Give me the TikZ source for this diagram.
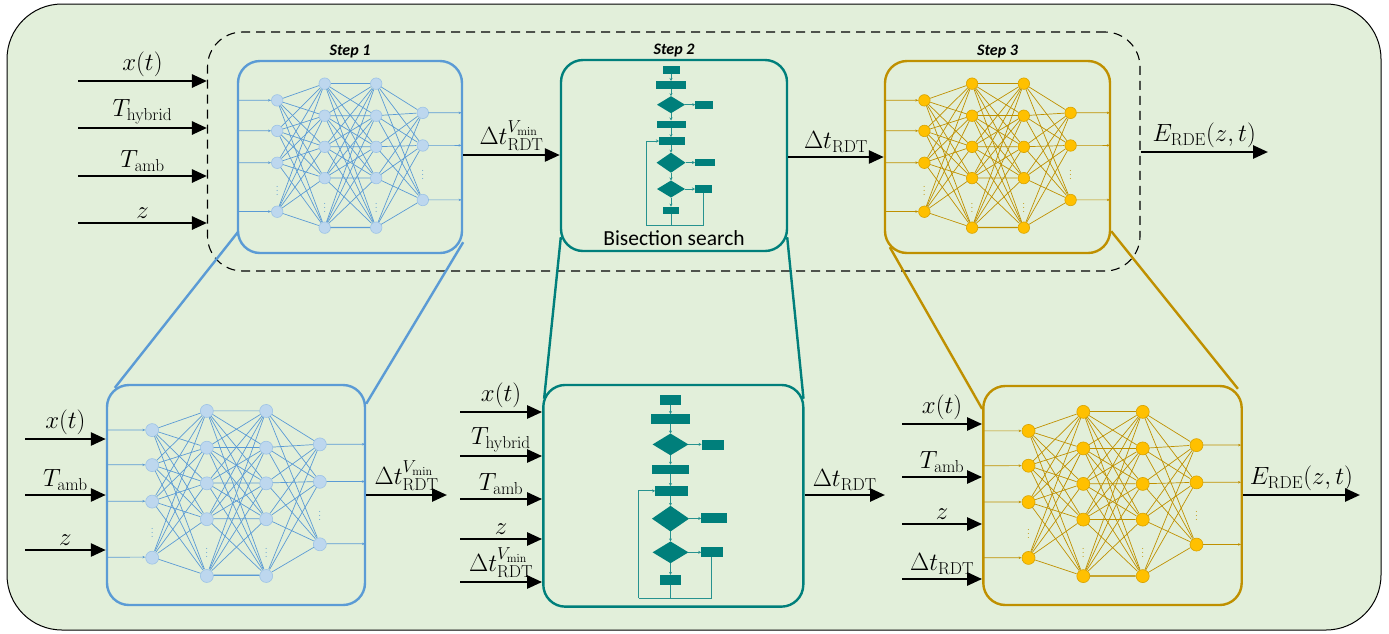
\documentclass[tikz,border=0pt]{standalone}
\usepackage[no-math]{fontspec}
\newfontfamily\calib{Carlito}
\usetikzlibrary{arrows.meta,calc}
\definecolor{bgg}{HTML}{E2EFDA}
\definecolor{nnblue}{HTML}{5B9BD5}
\definecolor{nnbluefill}{HTML}{BDD7EE}
\definecolor{nnblueedge}{HTML}{9DC3E6}
\definecolor{tealc}{HTML}{007F7B}
\definecolor{goldc}{HTML}{BF9000}
\definecolor{goldfill}{HTML}{FFC000}
\definecolor{goldedge}{HTML}{D9A300}
\tikzset{
 arr/.style={line width=2.6pt,-{Triangle[length=15pt,width=13pt]}},
 lbl/.style={font=\fontsize{25.5}{30}\selectfont,inner sep=3pt},
 box/.style={draw=#1,line width=2.4pt,rounded corners=22pt,fill=bgg,inner sep=0pt},
 zline/.style={draw=#1,line width=2.4pt},
 steplbl/.style={font=\calib\bfseries\itshape\fontsize{16}{18}\selectfont,inner sep=2pt},
 neuron/.style 2 args={circle,fill=#1,draw=#2,line width=0.6pt,inner sep=0pt,minimum size=\nnsize},
 nnl/.style={draw=#1,line width=0.7pt},
 vdot/.style={text=#1,font=\fontsize{10}{10}\selectfont,inner sep=0pt},
 fl/.style={draw=tealc!85,line width=0.8pt},
 fla/.style={draw=tealc!85,line width=0.8pt,-{Stealth[length=3pt,width=3pt]}},
}
\newcommand\vmin{\raisebox{3pt}{$\scriptstyle V_{\mathrm{min}}$}}
\newcommand\nnsize{12pt}
\newcommand\nnet[8]{%
\begin{scope}[shift={(#2,#3)},xscale=#4,yscale=#5]
\foreach \yy [count=\i] in {0.205,0.364,0.530,0.785}{\node[neuron={#7}{#8}] (#1a\i) at (0.175,\yy) {}; \coordinate (#1i\i) at (0,\yy);}
\foreach \yy [count=\i] in {0.118,0.285,0.447,0.610,0.868}{\node[neuron={#7}{#8}] (#1b\i) at (0.387,\yy) {}; \node[neuron={#7}{#8}] (#1c\i) at (0.617,\yy) {};}
\foreach \yy [count=\i] in {0.27,0.44,0.724}{\node[neuron={#7}{#8}] (#1d\i) at (0.825,\yy) {}; \coordinate (#1o\i) at (1,\yy);}
\node[vdot=#6] (#1v1) at (0.175,0.66) {$\vdots$};
\node[vdot=#6] (#1v2) at (0.387,0.75) {$\vdots$};
\node[vdot=#6] (#1v3) at (0.617,0.75) {$\vdots$};
\node[vdot=#6] (#1v4) at (0.825,0.58) {$\vdots$};
\foreach \i in {1,...,4}{\draw[nnl=#6,-{Stealth[length=3pt,width=2.5pt]}] (#1i\i) -- (#1a\i); \foreach \j in {1,...,5}{\draw[nnl=#6] (#1a\i) -- (#1b\j);}}
\foreach \i in {1,...,5}{\foreach \j in {1,...,5}{\draw[nnl=#6] (#1b\i) -- (#1c\j);} \foreach \j in {1,2,3}{\draw[nnl=#6] (#1c\i) -- (#1d\j);}}
\foreach \i in {1,2,3}{\draw[nnl=#6,-{Stealth[length=3pt,width=2.5pt]}] (#1d\i) -- (#1o\i);}
\draw[nnl=#6,line width=1.3pt] (#1b5) -- (#1c5);
\end{scope}}
\newcommand\flowch[3]{%
\begin{scope}[shift={(#1,#2)},scale=#3]
\draw[fla] (0,14) -- (0,21);
\draw[fla] (0,29) -- (0,36.2);
\draw[fla] (0,53.2) -- (0,60.5);
\draw[fla] (0,68) -- (0,77.2);
\draw[fla] (0,84.8) -- (0,92.7);
\draw[fla] (0,112.7) -- (0,120.5);
\draw[fla] (0,137.5) -- (0,146.6);
\draw[fl] (0,154.4) -- (0,165);
\draw[fla] (14,44.7) -- (24.3,44.7);
\draw[fla] (14.5,102.5) -- (24,102.5);
\draw[fla] (14,129) -- (24,129);
\draw[fl] (32.3,132.8) -- (32.3,165) -- (-24.7,165);
\draw[fla] (-24.7,165) -- (-24.7,81) -- (-12,81);
\fill[tealc] (-8.5,6) rectangle (8.5,14);
\fill[tealc] (-15,21) rectangle (15,29);
\fill[tealc] (-14,44.7) -- (0,36.2) -- (14,44.7) -- (0,53.2) -- cycle;
\fill[tealc] (24.3,41) rectangle (41.8,49);
\fill[tealc] (-14.5,60.5) rectangle (14.5,68);
\fill[tealc] (-12,77.2) rectangle (13.7,84.8);
\fill[tealc] (-14.5,102.7) -- (0,92.7) -- (14.5,102.7) -- (0,112.7) -- cycle;
\fill[tealc] (24,98.6) rectangle (44,106);
\fill[tealc] (-14,129) -- (0,120.5) -- (14,129) -- (0,137.5) -- cycle;
\fill[tealc] (24,125.2) rectangle (40.7,132.8);
\fill[tealc] (-8.3,146.6) rectangle (8.3,154.4);
\end{scope}}
\begin{document}
\begin{tikzpicture}[x=1pt,y=-1pt]
\useasboundingbox (0,0) rectangle (1389,633);
\draw[fill=bgg,line width=1pt,rounded corners=55pt] (7,4) rectangle (1381,630);
\node[draw,dashed,dash pattern=on 9pt off 6pt,line width=1.1pt,rounded corners=35pt,inner sep=0pt,minimum width=932.5pt,minimum height=239pt] (dash) at (673.75,151.5) {};
% step boxes
\node[box=nnblue,minimum width=224pt,minimum height=192pt] (s1) at (350,157) {};
\node[box=tealc,minimum width=226pt,minimum height=191pt] (s2) at (674,155.5) {};
\node[box=goldc,minimum width=225pt,minimum height=192pt] (s3) at (997.5,157) {};
\node[box=nnblue,minimum width=258pt,minimum height=220pt] (b1) at (236,495) {};
\node[box=tealc,minimum width=260pt,minimum height=221.7pt] (b2) at (673.3,495.8) {};
\node[box=goldc,minimum width=258.4pt,minimum height=219pt] (b3) at (1112.5,495.5) {};
% zoom connector lines
\draw[zline=nnblue] ($(s1.south west)+(1,-22)$) -- ($(b1.north west)+(9,4)$);
\draw[zline=nnblue] ($(s1.south east)+(0,-12)$) -- ($(b1.north east)+(0,20)$);
\draw[zline=tealc] ($(s2.south west)+(1,-15)$) -- ($(b2.north west)+(2,15)$);
\draw[zline=tealc] ($(s2.south east)+(-1,-15)$) -- ($(b2.north east)+(-1,15)$);
\draw[zline=goldc] ($(s3.south west)+(6,-7)$) -- ($(b3.north west)+(0,24)$);
\draw[zline=goldc] ($(s3.south east)+(0,-23)$) -- ($(b3.north east)+(-5,4)$);
% step labels
\node[steplbl,anchor=south] (l1) at (s1.north) {Step 1};
\node[steplbl,anchor=south] (l2) at (s2.north) {Step 2};
\node[steplbl,anchor=south] (l3) at (s3.north) {Step 3};
% networks
\renewcommand\nnsize{11.5pt}
\nnet{p}{238}{61}{224}{192}{nnblue}{nnbluefill}{nnblueedge}
\nnet{q}{885}{61}{225}{192}{goldc}{goldfill}{goldedge}
\renewcommand\nnsize{13pt}
\nnet{r}{107}{385}{258}{220}{nnblue}{nnbluefill}{nnblueedge}
\nnet{u}{983.3}{386}{258.4}{219}{goldc}{goldfill}{goldedge}
\flowch{671}{60}{1}
\flowch{670.5}{387.2}{1.28}
\node[font=\calib\fontsize{21.5}{24}\selectfont,inner sep=0pt] (bis) at (674,238) {Bisection search};
% top inputs
\coordinate (t1) at (78,81);
\coordinate (t2) at (78,128);
\coordinate (t3) at (78,176);
\coordinate (t4) at (78,223);
\draw[arr] (t1) -- node[lbl,above] {$x(t)$} (t1 -| dash.west);
\draw[arr] (t2) -- node[lbl,above] {$T_{\mathrm{hybrid}}$} (t2 -| dash.west);
\draw[arr] (t3) -- node[lbl,above] {$T_{\mathrm{amb}}$} (t3 -| dash.west);
\draw[arr] (t4) -- node[lbl,above] {$z$} (t4 -| dash.west);
\coordinate (m1) at (462,155);
\coordinate (m2) at (788,157);
\draw[arr] (m1 -| s1.east) -- node[lbl,above] {$\Delta t_{\mathrm{RDT}}^{\vmin}$} (m1 -| s2.west);
\draw[arr] (m2 -| s2.east) -- node[lbl,above] {$\Delta t_{\mathrm{RDT}}$} (m2 -| s3.west);
\coordinate (o1) at (1268,152);
\draw[arr] (o1 -| dash.east) -- node[lbl,above] {$E_{\mathrm{RDE}}(z,t)$} (o1);
% bottom 1
\coordinate (a1) at (25,439);
\coordinate (a2) at (25,495);
\coordinate (a3) at (25,550);
\draw[arr] (a1) -- node[lbl,above] {$x(t)$} (a1 -| b1.west);
\draw[arr] (a2) -- node[lbl,above] {$T_{\mathrm{amb}}$} (a2 -| b1.west);
\draw[arr] (a3) -- node[lbl,above] {$z$} (a3 -| b1.west);
\coordinate (ao) at (447,495);
\draw[arr] (ao -| b1.east) -- node[lbl,above] {$\Delta t_{\mathrm{RDT}}^{\vmin}$} (ao);
% bottom 2
\coordinate (c1) at (460,412);
\coordinate (c2) at (460,456);
\coordinate (c3) at (460,499);
\coordinate (c4) at (460,539);
\coordinate (c5) at (460,582);
\draw[arr] (c1) -- node[lbl,above] {$x(t)$} (c1 -| b2.west);
\draw[arr] (c2) -- node[lbl,above] {$T_{\mathrm{hybrid}}$} (c2 -| b2.west);
\draw[arr] (c3) -- node[lbl,above] {$T_{\mathrm{amb}}$} (c3 -| b2.west);
\draw[arr] (c4) -- node[lbl,above] {$z$} (c4 -| b2.west);
\draw[arr] (c5) -- node[lbl,above] {$\Delta t_{\mathrm{RDT}}^{\vmin}$} (c5 -| b2.west);
\coordinate (co) at (885,495);
\draw[arr] (co -| b2.east) -- node[lbl,above] {$\Delta t_{\mathrm{RDT}}$} (co);
% bottom 3
\coordinate (d1) at (902,424);
\coordinate (d2) at (902,477);
\coordinate (d3) at (902,524);
\coordinate (d4) at (902,579);
\draw[arr] (d1) -- node[lbl,above] {$x(t)$} (d1 -| b3.west);
\draw[arr] (d2) -- node[lbl,above] {$T_{\mathrm{amb}}$} (d2 -| b3.west);
\draw[arr] (d3) -- node[lbl,above] {$z$} (d3 -| b3.west);
\draw[arr] (d4) -- node[lbl,above] {$\Delta t_{\mathrm{RDT}}$} (d4 -| b3.west);
\coordinate (do) at (1360,495);
\draw[arr] (do -| b3.east) -- node[lbl,above] {$E_{\mathrm{RDE}}(z,t)$} (do);
\end{tikzpicture}
\end{document}
